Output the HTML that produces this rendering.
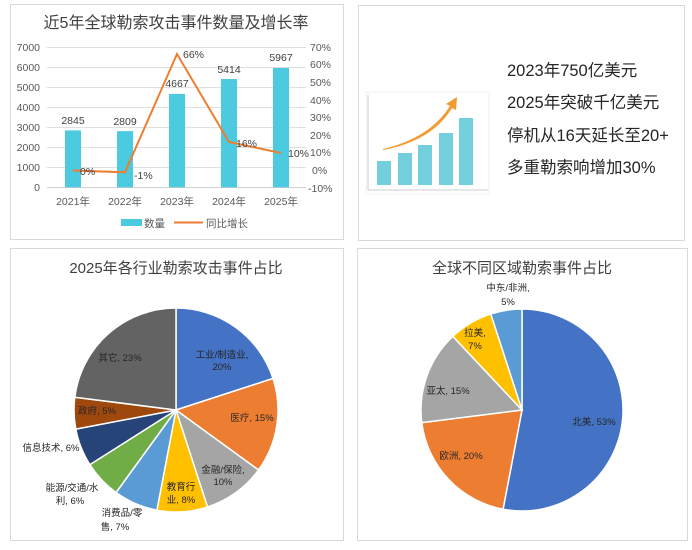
<!DOCTYPE html>
<html><head><meta charset="utf-8"><style>
body{margin:0;background:#fff;}
svg text{font-family:"Liberation Sans","Noto Sans CJK SC",sans-serif;}
</style></head><body>
<svg id="s" width="692" height="545" viewBox="0 0 692 545" xmlns="http://www.w3.org/2000/svg">
<rect width="692" height="545" fill="#fff"/>
<rect x="10.5" y="4.5" width="333" height="235" fill="#fff" stroke="#d9d9d9"/>
<rect x="358.5" y="5.5" width="326" height="235" fill="#fff" stroke="#d9d9d9"/>
<rect x="10.5" y="248.5" width="333" height="292" fill="#fff" stroke="#d9d9d9"/>
<rect x="357.5" y="248.5" width="330" height="292" fill="#fff" stroke="#d9d9d9"/>

<text x="176" y="28" font-size="16" text-anchor="middle" fill="#404040">近5年全球勒索攻击事件数量及增长率</text>
<g stroke="#e0e0e0" stroke-width="1">
<line x1="47" y1="47.5" x2="306" y2="47.5"/><line x1="47" y1="67.5" x2="306" y2="67.5"/>
<line x1="47" y1="87.5" x2="306" y2="87.5"/><line x1="47" y1="107.5" x2="306" y2="107.5"/>
<line x1="47" y1="127.5" x2="306" y2="127.5"/><line x1="47" y1="147.5" x2="306" y2="147.5"/>
<line x1="47" y1="167.5" x2="306" y2="167.5"/><line x1="47" y1="187.5" x2="306" y2="187.5" stroke="#d0d0d0"/>
</g>
<g font-size="10.5" fill="#595959" text-anchor="end">
<text x="40" y="51">7000</text><text x="40" y="71">6000</text><text x="40" y="91">5000</text><text x="40" y="111">4000</text>
<text x="40" y="131">3000</text><text x="40" y="151">2000</text><text x="40" y="171">1000</text><text x="40" y="191">0</text>
</g>
<g font-size="10.5" fill="#595959" text-anchor="start">
<text x="310" y="51">70%</text><text x="310" y="68">60%</text><text x="310" y="86">50%</text><text x="310" y="104">40%</text>
<text x="310" y="121">30%</text><text x="310" y="139">20%</text><text x="310" y="156">10%</text><text x="312" y="174">0%</text><text x="308" y="192">-10%</text>
</g>
<g fill="#4ccbe0">
<rect x="65" y="130.4" width="16" height="56.9"/>
<rect x="117" y="131.1" width="16" height="56.2"/>
<rect x="169" y="93.9" width="16" height="93.4"/>
<rect x="221" y="79" width="16" height="108.3"/>
<rect x="273" y="68" width="16" height="119.3"/>
</g>
<g font-size="10.5" fill="#404040" text-anchor="middle">
<text x="73" y="124">2845</text><text x="125" y="125">2809</text><text x="177" y="87">4667</text>
<text x="229" y="73">5414</text><text x="281" y="61">5967</text>
</g>
<polyline points="73,170.5 125,172.3 177,54 229,142 281,153" fill="none" stroke="#ed7d31" stroke-width="2"/>
<g font-size="10.5" fill="#404040">
<text x="80" y="175">0%</text><text x="134" y="179">-1%</text><text x="183" y="58">66%</text>
<text x="236" y="147">16%</text><text x="288" y="157">10%</text>
</g>
<g font-size="10.5" fill="#595959" text-anchor="middle">
<text x="73" y="205">2021年</text><text x="125" y="205">2022年</text><text x="177" y="205">2023年</text>
<text x="229" y="205">2024年</text><text x="281" y="205">2025年</text>
</g>
<rect x="121" y="219" width="21" height="7" fill="#4ccbe0"/>
<text x="144" y="227" font-size="10.5" fill="#595959">数量</text>
<line x1="174" y1="222.5" x2="203" y2="222.5" stroke="#ed7d31" stroke-width="2"/>
<text x="206" y="227" font-size="10.5" fill="#595959">同比增长</text>

<rect x="366" y="92" width="123" height="102" fill="#fff" stroke="#f2f2f2"/>
<line x1="368" y1="95" x2="368" y2="190" stroke="#ccc"/>
<line x1="368" y1="190" x2="488" y2="190" stroke="#ccc"/>
<g fill="#72cfdb">
<rect x="377" y="161" width="14" height="24"/><rect x="398" y="153" width="14" height="32"/>
<rect x="418" y="145" width="14" height="40"/><rect x="439" y="133" width="14" height="52"/>
<rect x="459" y="118" width="14" height="67"/>
</g>
<path d="M383,149 Q430,138 450,106 L446,104 L457,97 L456,110 L452,108 Q432,141 383,150 Z" fill="#f29b30"/>
<g font-size="16.5" fill="#262626">
<text x="507" y="76">2023年750亿美元</text>
<text x="507" y="108">2025年突破千亿美元</text>
<text x="507" y="141">停机从16天延长至20+</text>
<text x="507" y="173">多重勒索响增加30%</text>
</g>

<text x="176" y="273" font-size="15" text-anchor="middle" fill="#404040">2025年各行业勒索攻击事件占比</text>
<text x="522" y="273" font-size="15" text-anchor="middle" fill="#404040">全球不同区域勒索事件占比</text>
<g id="p1"></g><g id="p2"></g>
<g font-size="9.5" fill="#262626" text-anchor="middle">
<text x="222" y="358">工业/制造业,</text><text x="222" y="370">20%</text>
<text x="252" y="421">医疗, 15%</text>
<text x="223" y="473">金融/保险,</text><text x="223" y="485">10%</text>
<text x="181" y="490">教育行</text><text x="181" y="503">业, 8%</text>
<text x="122" y="516">消费品/零</text><text x="115" y="530">售, 7%</text>
<text x="72" y="491">能源/交通/水</text><text x="70" y="504">利, 6%</text>
<text x="51" y="451">信息技术, 6%</text>
<text x="97" y="414">政府, 5%</text>
<text x="120" y="361">其它, 23%</text>
<text x="508" y="291">中东/非洲,</text><text x="508" y="305">5%</text>
<text x="475" y="336">拉美,</text><text x="475" y="349">7%</text>
<text x="448" y="394">亚太, 15%</text>
<text x="594" y="425">北美, 53%</text>
<text x="461" y="459">欧洲, 20%</text>
</g>
</svg>
<script>
function pie(id,cx,cy,r,data){
 var g=document.getElementById(id),a=0,s='';
 data.forEach(function(d){
  var a1=a+d[0]/100*2*Math.PI;
  var x0=cx+r*Math.sin(a),y0=cy-r*Math.cos(a),x1=cx+r*Math.sin(a1),y1=cy-r*Math.cos(a1);
  var large=(a1-a)>Math.PI?1:0;
  s+='<path d="M'+cx+','+cy+' L'+x0.toFixed(2)+','+y0.toFixed(2)+' A'+r+','+r+' 0 '+large+' 1 '+x1.toFixed(2)+','+y1.toFixed(2)+' Z" fill="'+d[1]+'" stroke="#fff" stroke-width="1.5"/>';
  a=a1;
 });
 g.innerHTML=s;
}
pie('p1',176,410,102,[[20,'#4472c4'],[15,'#ed7d31'],[10,'#a5a5a5'],[8,'#ffc000'],[7,'#5b9bd5'],[6,'#70ad47'],[6,'#264478'],[5,'#9e480e'],[23,'#636363']]);
pie('p2',522,410,101,[[53,'#4472c4'],[20,'#ed7d31'],[15,'#a5a5a5'],[7,'#ffc000'],[5,'#5b9bd5']]);
</script>
</body></html>
